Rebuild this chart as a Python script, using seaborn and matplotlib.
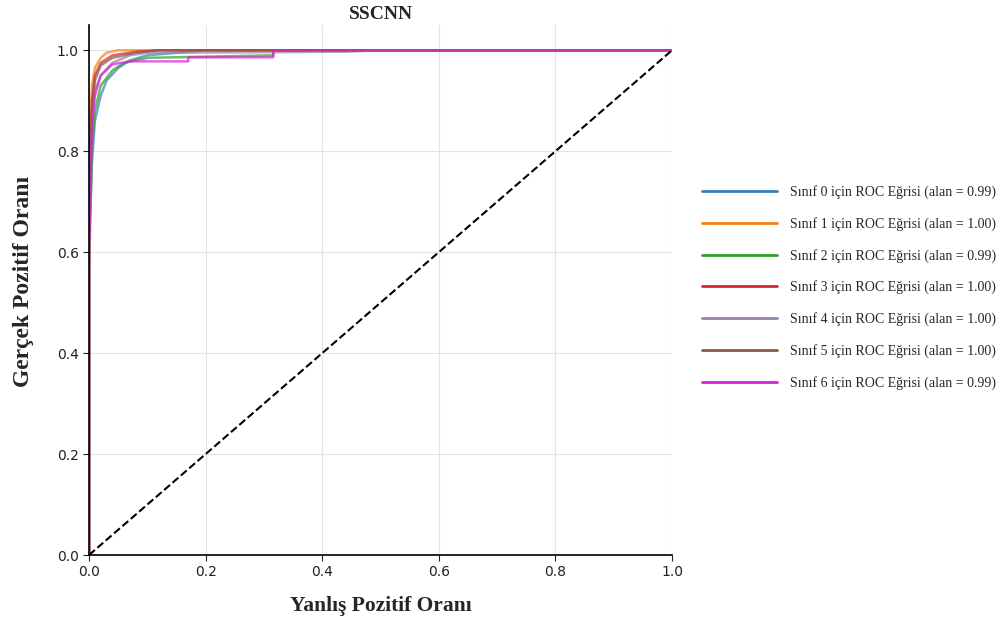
import numpy as np
import pandas as pd
import matplotlib
matplotlib.use("Agg")
import matplotlib.pyplot as plt
import seaborn as sns

# Per-class ROC points (false positive rate, true positive rate)
fpr_0 = [0, 0, 0.005, 0.01, 0.02, 0.03, 0.05, 0.07, 0.10, 0.15, 0.20, 1.0]
tpr_0 = [0, 0.62, 0.78, 0.86, 0.91, 0.94, 0.965, 0.98, 0.99, 0.995, 1.0, 1.0]

fpr_1 = [0, 0, 0.005, 0.01, 0.02, 0.03, 0.05, 1.0]
tpr_1 = [0, 0.80, 0.93, 0.965, 0.985, 0.995, 1.0, 1.0]

fpr_2 = [0, 0, 0.005, 0.01, 0.02, 0.04, 0.06, 0.10, 0.316, 0.316, 1.0]
tpr_2 = [0, 0.56, 0.80, 0.88, 0.93, 0.96, 0.975, 0.985, 0.99, 1.0, 1.0]

fpr_3 = [0, 0, 0.005, 0.01, 0.02, 0.04, 0.08, 0.12, 1.0]
tpr_3 = [0, 0.75, 0.90, 0.95, 0.975, 0.99, 0.997, 1.0, 1.0]

fpr_4 = [0, 0, 0.005, 0.01, 0.02, 0.04, 0.07, 0.10, 0.44, 0.50, 1.0]
tpr_4 = [0, 0.70, 0.86, 0.92, 0.95, 0.975, 0.99, 0.995, 0.997, 1.0, 1.0]

fpr_5 = [0, 0, 0.005, 0.01, 0.02, 0.04, 0.08, 0.12, 1.0]
tpr_5 = [0, 0.72, 0.88, 0.94, 0.97, 0.985, 0.995, 1.0, 1.0]

fpr_6 = [0, 0, 0.005, 0.01, 0.02, 0.04, 0.07, 0.17, 0.17, 0.316, 0.316, 1.0]
tpr_6 = [0, 0.60, 0.85, 0.91, 0.95, 0.972, 0.978, 0.978, 0.986, 0.986, 1.0, 1.0]

auc_values = [0.99, 1.00, 0.99, 1.00, 1.00, 1.00, 0.99]
class_ids = [0, 1, 2, 3, 4, 5, 6]
colors = ["#3b7fb3", "#ff7f0e", "#2ca02c", "#d62728", "#9a7fa6", "#8c564b", "#d424d4"]

fprs = [fpr_0, fpr_1, fpr_2, fpr_3, fpr_4, fpr_5, fpr_6]
tprs = [tpr_0, tpr_1, tpr_2, tpr_3, tpr_4, tpr_5, tpr_6]

sns.set_style("whitegrid", {"grid.color": "#e3e3e3", "axes.edgecolor": "black"})
serif = ["Liberation Serif", "DejaVu Serif"]

fig = plt.figure(figsize=(10.05, 6.32), dpi=100)
ax = fig.add_axes([0.0886, 0.1218, 0.5801, 0.8386])

for cid, fpr, tpr, col, auc in zip(class_ids, fprs, tprs, colors, auc_values):
    df = pd.DataFrame({"fpr": fpr, "tpr": tpr})
    sns.lineplot(data=df, x="fpr", y="tpr", ax=ax, color=col, lw=1.8, alpha=0.7,
                 sort=False, estimator=None,
                 label=f"Sınıf {cid} için ROC Eğrisi (alan = {auc:.2f})")

diag = pd.DataFrame({"x": [0, 1], "y": [0, 1]})
sns.lineplot(data=diag, x="x", y="y", ax=ax, color="black", lw=1.5,
             linestyle="--", sort=False, estimator=None)

ax.set_xlim(0, 1.0)
ax.set_ylim(0, 1.05)
ax.set_xticks([0, 0.2, 0.4, 0.6, 0.8, 1.0])
ax.set_yticks([0, 0.2, 0.4, 0.6, 0.8, 1.0])
ax.tick_params(axis="both", labelsize=10, colors="#222222", length=4, width=0.8,
               direction="out", left=True, bottom=True)
ax.grid(True, lw=0.8)
for side in ["top", "right"]:
    ax.spines[side].set_visible(False)
for side in ["left", "bottom"]:
    ax.spines[side].set_linewidth(1.2)
    ax.spines[side].set_color("black")

ax.set_title("SSCNN", fontfamily=serif, fontweight="bold", fontsize=14, pad=4)
ax.set_xlabel("Yanlış Pozitif Oranı", fontfamily=serif, fontweight="bold",
              fontsize=15.5, labelpad=12)
ax.set_ylabel("Gerçek Pozitif Oranı", fontfamily=serif, fontweight="bold",
              fontsize=17)
ax.yaxis.set_label_coords(-0.095, 0.517)

leg = ax.legend(loc="center left", bbox_to_anchor=(1.03, 0.505), frameon=False,
                prop={"family": serif, "size": 10}, handlelength=5.4,
                labelspacing=1.28, handletextpad=0.9)
for line in leg.get_lines():
    line.set_alpha(1.0)
    line.set_linewidth(2.0)

fig.savefig("out.png", dpi=100)
